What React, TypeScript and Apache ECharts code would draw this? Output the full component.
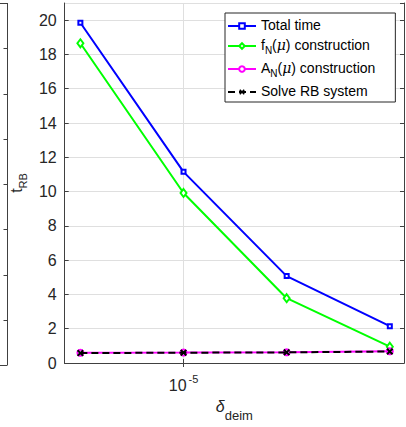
import React, { useEffect, useRef } from 'react';
import * as echarts from 'echarts';

// ---- data ----
const deimTol = [5e-6, 1e-5, 2e-5, 4e-5];
const totalTime = [19.85, 11.15, 5.07, 2.15];
const fnConstruction = [18.65, 9.92, 3.78, 0.95];
const anConstruction = [0.6, 0.61, 0.63, 0.69];
const solveRB = [0.58, 0.6, 0.62, 0.67];
const seriesNames = ['Total time', 'f_N(μ) construction', 'A_N(μ) construction', 'Solve RB system'];
const xTickValues = [1e-5];
const xTickLabels = ['10^-5'];
const xMin = 4.5e-6;
const xMax = 4.4e-5;
const yMin = 0;
const yMax = 21;
const yInterval = 2;

const FONT = "'Liberation Sans', Arial, Helvetica, sans-serif";
const AXIS = '#404040';
const TEXT = '#262626';
const GRID = '#dfdfdf';

const W = 406;
const H = 427;
const G = { left: 62, top: 3, right: 2, bottom: 62 };

const lg = (v: number) => Math.log10(v);

export default function App() {
  const ref = useRef<HTMLDivElement>(null);
  useEffect(() => {
    const chart = echarts.init(ref.current!, null, { renderer: 'svg' });
    const pts = (ys: number[]) => deimTol.map((x, i) => [lg(x), ys[i]]);
    const xTicksLog = xTickValues.map(lg);

    const legendFmt = (name: string) => {
      const m = name.match(/^(\w)_(\w)\(μ\)(.*)$/);
      if (m) return `{n|${m[1]}}{s|${m[2]}}{n|(}{i|μ}{n|)${m[3]}}`;
      return `{n|${name}}`;
    };

    const xCommon = {
      type: 'value' as const,
      min: lg(xMin),
      max: lg(xMax),
      axisLine: { show: true, lineStyle: { color: AXIS, width: 1 } },
    };
    const yCommon = {
      type: 'value' as const,
      min: yMin,
      max: yMax,
      interval: yInterval,
      axisLine: { show: true, lineStyle: { color: AXIS, width: 1 } },
    };

    // left neighbour subplot edge (decoration)
    const leftEdgeX = 7.5;
    const gTop = G.top;
    const gBot = H - G.bottom;
    const graphics: any[] = [
      { type: 'line', shape: { x1: leftEdgeX, y1: gTop, x2: leftEdgeX, y2: gBot }, style: { stroke: AXIS, lineWidth: 1 } },
      { type: 'line', shape: { x1: 0, y1: gTop + 0.5, x2: leftEdgeX, y2: gTop + 0.5 }, style: { stroke: AXIS, lineWidth: 1 } },
      { type: 'line', shape: { x1: 0, y1: gBot + 0.5, x2: leftEdgeX, y2: gBot + 0.5 }, style: { stroke: AXIS, lineWidth: 1 } },
    ];
    for (let k = 1; k < 8; k++) {
      const y = Math.round(gBot - (k * (gBot - gTop)) / 8) + 0.5;
      graphics.push({ type: 'line', shape: { x1: leftEdgeX - 4, y1: y, x2: leftEdgeX, y2: y }, style: { stroke: AXIS, lineWidth: 1 } });
    }

    const xLabelRich = (s: string) => {
      const [b, p] = s.split('^');
      return `{b|${b}}{p|${p}}`;
    };

    chart.setOption({
      animation: false,
      backgroundColor: '#ffffff',
      textStyle: { fontFamily: FONT },
      grid: { left: G.left, top: G.top, right: G.right, bottom: G.bottom, containLabel: false },
      graphic: graphics,
      legend: {
        orient: 'vertical',
        left: 225,
        top: 13,
        data: seriesNames,
        selectedMode: false,
        backgroundColor: '#ffffff',
        borderColor: '#262626',
        borderWidth: 1,
        borderRadius: 0,
        padding: [5, 20, 4, 2],
        itemWidth: 28,
        itemHeight: 7,
        itemGap: 6,
        formatter: legendFmt,
        textStyle: {
          fontFamily: FONT,
          color: '#000',
          rich: {
            n: { fontSize: 14, lineHeight: 16, verticalAlign: 'top', color: '#000', fontFamily: FONT },
            i: { fontSize: 14, lineHeight: 16, verticalAlign: 'top', fontStyle: 'italic', color: '#000', fontFamily: "'DejaVu Serif', serif" },
            s: { fontSize: 10, lineHeight: 10, verticalAlign: 'top', padding: [7, 0, 0, 0], color: '#000', fontFamily: FONT },
          },
        },
      },
      xAxis: [
        {
          ...xCommon,
          position: 'bottom',
          name: '{d|δ}{s|deim}',
          nameLocation: 'middle',
          nameGap: 35,
          nameTextStyle: {
            rich: {
              d: { fontSize: 16, lineHeight: 16, verticalAlign: 'top', fontStyle: 'italic', color: TEXT, fontFamily: FONT },
              s: { fontSize: 13, lineHeight: 13, verticalAlign: 'top', padding: [11, 0, 0, 0], color: TEXT, fontFamily: FONT },
            },
          },
          axisTick: { show: true, inside: true, length: 4, customValues: xTicksLog, lineStyle: { color: AXIS } },
          axisLabel: {
            show: true,
            customValues: xTicksLog,
            margin: 10,
            formatter: (v: number) => {
              const idx = xTicksLog.findIndex((t) => Math.abs(t - v) < 1e-9);
              return idx >= 0 ? xLabelRich(xTickLabels[idx]) : '';
            },
            rich: {
              b: { fontSize: 16, lineHeight: 16, verticalAlign: 'top', padding: [4, 0, 0, 0], color: TEXT, fontFamily: FONT },
              p: { fontSize: 11, lineHeight: 11, verticalAlign: 'top', padding: [0, 0, 0, 2], color: TEXT, fontFamily: FONT },
            },
          },
          splitLine: { show: true, lineStyle: { color: GRID, width: 1 } },
        },
        {
          ...xCommon,
          position: 'top',
          axisTick: { show: true, inside: true, length: 4, customValues: xTicksLog, lineStyle: { color: AXIS } },
          axisLabel: { show: false },
          splitLine: { show: false },
        },
      ],
      yAxis: [
        {
          ...yCommon,
          position: 'left',
          name: '{t|t}{s|RB}',
          nameLocation: 'middle',
          nameRotate: 90,
          nameGap: 34,
          nameTextStyle: {
            rich: {
              t: { fontSize: 16, lineHeight: 16, verticalAlign: 'top', color: TEXT, fontFamily: FONT },
              s: { fontSize: 11, lineHeight: 11, verticalAlign: 'top', padding: [9, 0, 0, 0], color: TEXT, fontFamily: FONT },
            },
          },
          axisTick: { show: true, inside: true, length: 4, lineStyle: { color: AXIS } },
          axisLabel: { show: true, margin: 8, fontSize: 16, color: TEXT, fontFamily: FONT, showMaxLabel: false },
          splitLine: { show: true, lineStyle: { color: GRID, width: 1 } },
        },
        {
          ...yCommon,
          position: 'right',
          axisTick: { show: true, inside: true, length: 4, lineStyle: { color: AXIS } },
          axisLabel: { show: false },
          splitLine: { show: false },
        },
      ],
      series: [
        {
          name: seriesNames[0],
          type: 'line',
          data: pts(totalTime),
          symbol: 'rect',
          symbolSize: 4,
          showAllSymbol: true,
          lineStyle: { color: '#0000ff', width: 2 },
          itemStyle: { color: '#ffffff', borderColor: '#0000ff', borderWidth: 2 },
          z: 2,
        },
        {
          name: seriesNames[1],
          type: 'line',
          data: pts(fnConstruction),
          symbol: 'diamond',
          symbolSize: [6, 8],
          showAllSymbol: true,
          lineStyle: { color: '#00ff00', width: 2 },
          itemStyle: { color: '#ffffff', borderColor: '#00ff00', borderWidth: 2 },
          z: 3,
        },
        {
          name: seriesNames[2],
          type: 'line',
          data: pts(anConstruction),
          symbol: 'circle',
          symbolSize: 6,
          showAllSymbol: true,
          lineStyle: { color: '#ff00ff', width: 2 },
          itemStyle: { color: '#ffffff', borderColor: '#ff00ff', borderWidth: 2 },
          z: 4,
        },
        {
          name: seriesNames[3],
          type: 'line',
          data: pts(solveRB),
          symbol: 'path://M0,2L2,0L5,3L8,0L10,2L7,5L10,8L8,10L5,7L2,10L0,8L3,5Z',
          symbolSize: 7,
          showAllSymbol: true,
          lineStyle: { color: '#000000', width: 2, type: [7, 4] },
          itemStyle: { color: '#000000', borderWidth: 0 },
          z: 5,
        },
      ],
    });
    return () => chart.dispose();
  }, []);
  return <div ref={ref} style={{ position: 'fixed', left: 0, top: 0, width: W, height: H }} />;
}
